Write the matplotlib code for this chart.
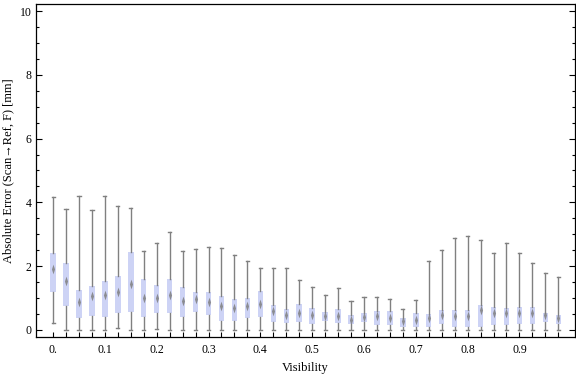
#!/usr/bin/env python3
"""Box-whisker chart of absolute error against visibility."""

import matplotlib
matplotlib.use("Agg")
import matplotlib.pyplot as plt
from matplotlib.ticker import MultipleLocator, FixedLocator

plt.rcParams["font.family"] = ["Liberation Serif", "DejaVu Serif"]

# visibility bins (box positions)
visibility = [round(i * 0.025, 3) for i in range(40)]

whisker_low = [0.21, 0, 0, 0, 0, 0.05, 0, 0, 0.03, 0,
               0, 0, 0, 0, 0, 0, 0, 0, 0, 0,
               0, 0, 0, 0, 0, 0, 0, 0, 0, 0,
               0, 0, 0, 0, 0, 0, 0, 0, 0, 0]
q1 = [1.17, 0.76, 0.36, 0.43, 0.39, 0.51, 0.57, 0.40, 0.51, 0.51,
      0.39, 0.57, 0.46, 0.26, 0.26, 0.36, 0.39, 0.23, 0.20, 0.23,
      0.17, 0.26, 0.20, 0.17, 0.23, 0.14, 0.14, 0.10, 0.07, 0.07,
      0.17, 0.10, 0.07, 0.10, 0.14, 0.14, 0.17, 0.17, 0.23, 0.17]
median = [1.90, 1.54, 0.86, 1.07, 1.10, 1.18, 1.45, 0.99, 1.01, 1.08,
          0.89, 0.95, 0.86, 0.75, 0.67, 0.75, 0.80, 0.60, 0.47, 0.54,
          0.46, 0.42, 0.43, 0.32, 0.41, 0.42, 0.36, 0.27, 0.32, 0.36,
          0.46, 0.43, 0.43, 0.62, 0.52, 0.52, 0.54, 0.51, 0.47, 0.36]
q3 = [2.41, 2.10, 1.25, 1.38, 1.54, 1.69, 2.45, 1.60, 1.41, 1.60,
      1.35, 1.19, 1.19, 1.07, 0.97, 1.00, 1.22, 0.78, 0.65, 0.82,
      0.68, 0.56, 0.65, 0.45, 0.53, 0.60, 0.60, 0.38, 0.53, 0.50,
      0.63, 0.63, 0.63, 0.78, 0.72, 0.69, 0.72, 0.72, 0.53, 0.47]
whisker_high = [4.16, 3.78, 4.20, 3.75, 4.20, 3.88, 3.81, 2.48, 2.73, 3.07,
                2.48, 2.53, 2.59, 2.56, 2.34, 2.15, 1.93, 1.93, 1.93, 1.56,
                1.34, 1.09, 1.31, 0.90, 1.02, 1.03, 0.97, 0.66, 0.93, 2.16,
                2.51, 2.88, 2.94, 2.81, 2.40, 2.72, 2.40, 2.09, 1.78, 1.65]

x_ticks = [0.0, 0.1, 0.2, 0.3, 0.4, 0.5, 0.6, 0.7, 0.8, 0.9]
x_tick_labels = ["0.", "0.1", "0.2", "0.3", "0.4", "0.5", "0.6", "0.7", "0.8", "0.9"]

stats = [
    {"whislo": lo, "q1": a, "med": m, "q3": b, "whishi": hi}
    for lo, a, m, b, hi in zip(whisker_low, q1, median, q3, whisker_high)
]

fig = plt.figure(figsize=(5.76, 3.77), dpi=100)
ax = fig.add_axes([0.0625, 0.106, 0.9355, 0.883])

ax.bxp(
    stats,
    positions=visibility,
    widths=0.0105,
    capwidths=0.006,
    showfliers=False,
    patch_artist=True,
    manage_ticks=False,
    boxprops=dict(facecolor="#cdd3f5", edgecolor="none", linewidth=0),
    whiskerprops=dict(color="#808080", linewidth=1.0),
    capprops=dict(color="#808080", linewidth=1.0),
    medianprops=dict(visible=False),
)

# thin vertical diamond for the median
diamond = [(0, 1), (0.32, 0), (0, -1), (-0.32, 0), (0, 1)]
ax.plot(visibility, median, linestyle="none", marker=diamond, markersize=7,
        color="#808080", markeredgewidth=0, alpha=0.85, zorder=4)

ax.set_xlim(-0.033, 1.007)
ax.set_ylim(-0.23, 10.22)

ax.xaxis.set_major_locator(FixedLocator(x_ticks))
ax.set_xticklabels(x_tick_labels)
ax.xaxis.set_minor_locator(FixedLocator(visibility))
ax.yaxis.set_major_locator(MultipleLocator(2))
ax.yaxis.set_minor_locator(MultipleLocator(0.5))

ax.tick_params(axis="both", which="both", direction="in", labelsize=8.5, width=0.8)
ax.tick_params(axis="x", which="both", length=3.5, pad=5)
ax.tick_params(axis="y", which="major", length=4, right=True, pad=3)
ax.tick_params(axis="y", which="minor", length=2, right=True)

for spine in ax.spines.values():
    spine.set_linewidth(0.9)

ax.set_xlabel("Visibility", fontsize=9, labelpad=4)
ax.set_ylabel("Absolute Error (Scan\u2192Ref, F) [mm]", fontsize=9, labelpad=4)

fig.savefig("out.png", dpi=100)
